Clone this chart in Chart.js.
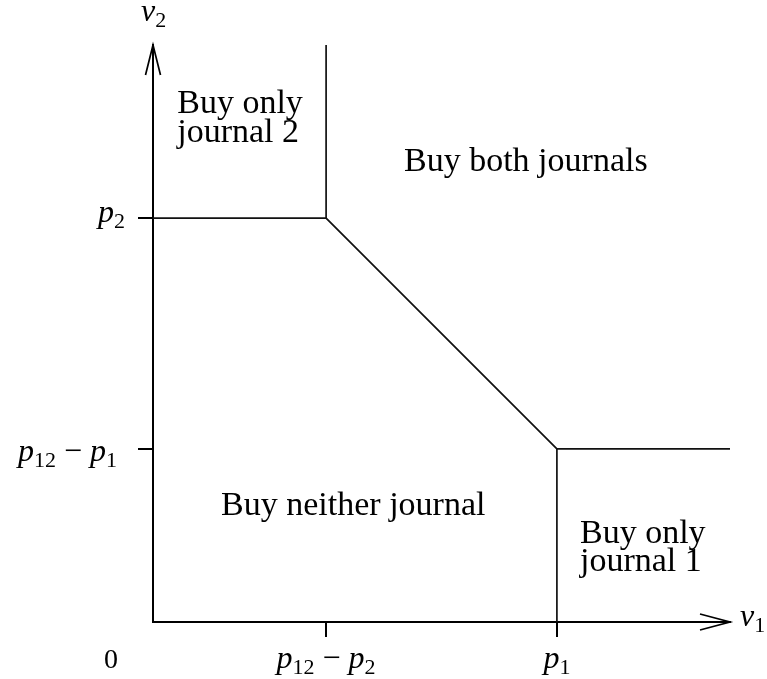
<!DOCTYPE html>
<html>
<head>
<meta charset="utf-8">
<title>Journal purchase regions</title>
<script src="https://cdn.jsdelivr.net/npm/chart.js@4.4.1/dist/chart.umd.min.js"></script>
<style>
  html, body { margin: 0; padding: 0; background: #fff; }
  canvas { display: block; }
</style>
</head>
<body>
<canvas id="myChart" width="767" height="679"></canvas>
<script>
// axis range for v1 and v2
var axisMax = 10;

// tick values and their labels
var xTicks = [3, 7];
var xTickLabels = ['p_{12} − p_{2}', 'p_{1}'];
var yTicks = [3, 7];
var yTickLabels = ['p_{12} − p_{1}', 'p_{2}'];
var axisTitles = ['v_{1}', 'v_{2}'];

// boundaries between the regions
var lowerBoundary = [{x: 0, y: 7}, {x: 3, y: 7}, {x: 7, y: 3}, {x: 10, y: 3}];
var upperDivider = [{x: 3, y: 7}, {x: 3, y: 10}];
var rightDivider = [{x: 7, y: 0}, {x: 7, y: 3}];

// region names and where they sit (v1, v2 of first baseline)
var regionNames = [['Buy only', 'journal 2'], ['Buy both journals'], ['Buy neither journal'], ['Buy only', 'journal 1']];
var regionSpots = [[0.42, 8.82], [4.35, 7.82], [1.18, 1.85], [7.40, 1.37]];

var SERIF = '"Liberation Serif", "DejaVu Serif", serif';
var MATH = 32, SUB = 22;

function mathRuns(str) {
    var runs = [];
    var re = /_\{([^}]*)\}|([a-z])|([^_a-z]+)/g, m;
    while ((m = re.exec(str))) {
        if (m[1] !== undefined) runs.push({t: m[1], sub: true});
        else if (m[2]) runs.push({t: m[2], it: true});
        else runs.push({t: m[3]});
    }
    return runs;
}

function drawMath(ctx, str, x, y, align) {
    var runs = mathRuns(str);
    var total = 0;
    runs.forEach(function (r) {
        r.font = (r.it ? 'italic ' : '') + (r.sub ? SUB : MATH) + 'px ' + SERIF;
        ctx.font = r.font;
        r.w = ctx.measureText(r.t).width;
        total += r.w;
    });
    var cx = x;
    if (align === 'center') cx = x - total / 2;
    if (align === 'right') cx = x - total;
    ctx.textAlign = 'left';
    ctx.textBaseline = 'alphabetic';
    runs.forEach(function (r) {
        ctx.font = r.font;
        ctx.fillText(r.t, cx, y + (r.sub ? 6 : 0));
        cx += r.w;
    });
}

var decorations = {
    id: 'decorations',
    afterDraw: function (chart) {
        var ctx = chart.ctx;
        var xs = chart.scales.x, ys = chart.scales.y;
        var left = xs.getPixelForValue(0), bottom = ys.getPixelForValue(0);
        var right = xs.getPixelForValue(axisMax), top = ys.getPixelForValue(axisMax);
        ctx.save();

        // arrow heads
        ctx.strokeStyle = '#000';
        ctx.lineWidth = 1.7;
        ctx.beginPath();
        ctx.moveTo(right - 30, bottom - 8);
        ctx.lineTo(right, bottom);
        ctx.lineTo(right - 30, bottom + 8);
        ctx.moveTo(left - 7.5, top + 30);
        ctx.lineTo(left, top);
        ctx.lineTo(left + 7.5, top + 30);
        ctx.stroke();

        ctx.fillStyle = '#000';

        // tick labels
        xTicks.forEach(function (v, i) {
            drawMath(ctx, xTickLabels[i], xs.getPixelForValue(v), bottom + 46, 'center');
        });
        var yGap = [36, 28], yDrop = [12, 4];
        yTicks.forEach(function (v, i) {
            drawMath(ctx, yTickLabels[i], left - yGap[i], ys.getPixelForValue(v) + yDrop[i], 'right');
        });
        ctx.font = '28px ' + SERIF;
        ctx.textAlign = 'center';
        ctx.fillText('0', left - 42, bottom + 46);

        // axis titles
        drawMath(ctx, axisTitles[0], right + 10, bottom + 4, 'left');
        drawMath(ctx, axisTitles[1], left - 12, top - 24, 'left');

        // region names
        ctx.font = '34px ' + SERIF;
        ctx.textAlign = 'left';
        ctx.textBaseline = 'alphabetic';
        regionNames.forEach(function (lines, i) {
            var px = xs.getPixelForValue(regionSpots[i][0]);
            var py = ys.getPixelForValue(regionSpots[i][1]);
            lines.forEach(function (s, k) {
                ctx.fillText(s, px, py + k * 28.5);
            });
        });
        ctx.restore();
    }
};

function segment(points) {
    return {
        data: points,
        showLine: true,
        borderColor: '#111',
        borderWidth: 1.7,
        pointRadius: 0,
        fill: false
    };
}

function pinTicks(values) {
    return function (scale) {
        scale.ticks = values.map(function (v) { return {value: v}; });
    };
}

var axisStyle = {
    border: {display: true, color: '#000', width: 2},
    grid: {drawOnChartArea: false, drawTicks: true, tickLength: 15, color: '#000', lineWidth: 2},
    ticks: {display: false}
};

var myChart = new Chart(document.getElementById('myChart').getContext('2d'), {
    type: 'scatter',
    data: {
        datasets: [segment(lowerBoundary), segment(upperDivider), segment(rightDivider)]
    },
    options: {
        responsive: false,
        animation: false,
        events: [],
        layout: {padding: {left: 138, right: 37, top: 45, bottom: 42}},
        plugins: {legend: {display: false}, tooltip: {enabled: false}},
        scales: {
            x: Object.assign({
                type: 'linear', position: 'bottom', min: 0, max: axisMax,
                afterBuildTicks: pinTicks(xTicks),
                afterFit: function (s) { s.height = 15; }
            }, axisStyle),
            y: Object.assign({
                type: 'linear', position: 'left', min: 0, max: axisMax,
                afterBuildTicks: pinTicks(yTicks),
                afterFit: function (s) { s.width = 15; }
            }, axisStyle)
        }
    },
    plugins: [decorations]
});
</script>
</body>
</html>
